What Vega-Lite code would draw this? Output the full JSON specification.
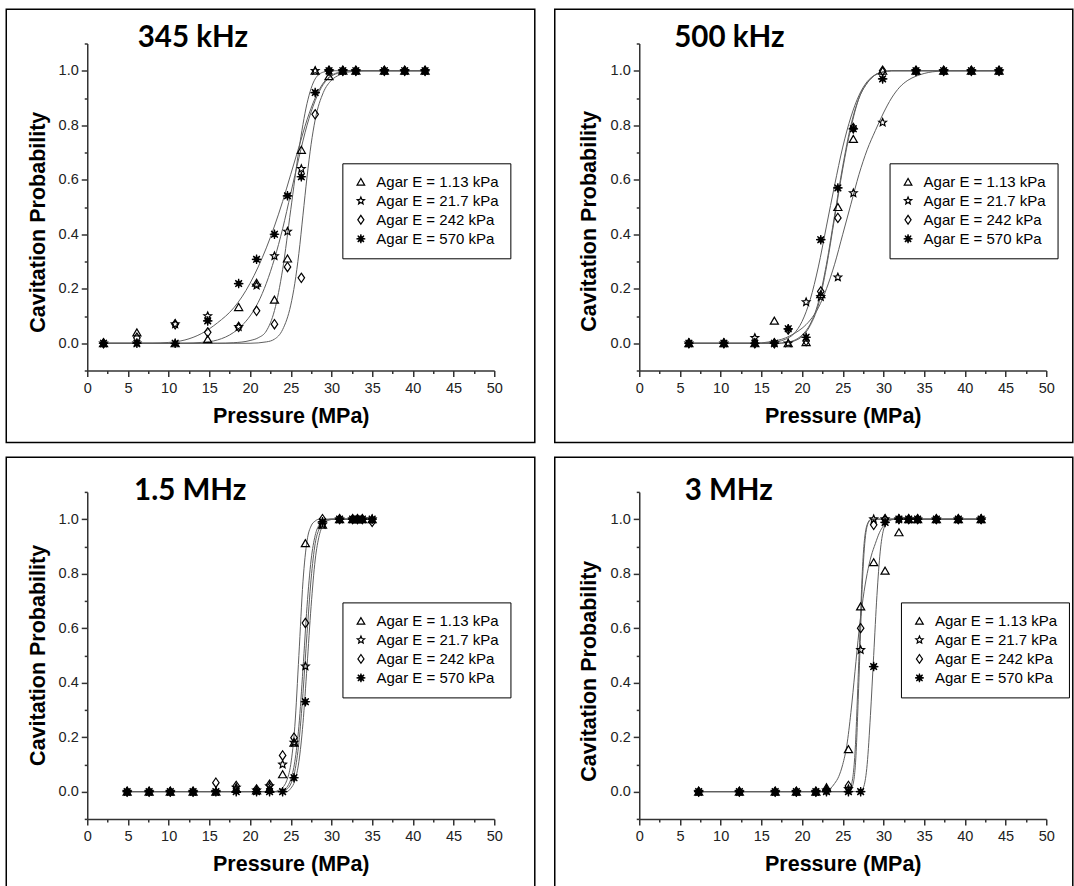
{
"$schema": "https://vega.github.io/schema/vega-lite/v6.json",
"background": "white",
"padding": {"left": 5.25, "top": 8.5, "right": 0, "bottom": 0},
"datasets": {
"pts": [
{"p":1,"x":2,"t":0,"s":0,"d":0,"a":0},
{"p":1,"x":6.1,"t":0.04,"s":0,"d":0.02,"a":0},
{"p":1,"x":10.8,"t":0,"s":0.07,"d":0.07,"a":0},
{"p":1,"x":14.8,"t":0.015,"s":0.1,"d":0.04,"a":0.082},
{"p":1,"x":18.6,"t":0.133,"s":0.06,"d":0.06,"a":0.219},
{"p":1,"x":20.8,"t":0.222,"s":0.212,"d":0.119,"a":0.308},
{"p":1,"x":23,"t":0.16,"s":0.32,"d":0.07,"a":0.4},
{"p":1,"x":24.6,"t":0.311,"s":0.41,"d":0.28,"a":0.541},
{"p":1,"x":26.3,"t":0.71,"s":0.64,"d":0.24,"a":0.611},
{"p":1,"x":28,"t":1,"s":1,"d":0.84,"a":0.92},
{"p":1,"x":29.7,"t":0.98,"s":1,"d":1,"a":1},
{"p":1,"x":31.4,"t":1,"s":1,"d":1,"a":1},
{"p":1,"x":33,"t":1,"s":1,"d":1,"a":1},
{"p":1,"x":36.5,"t":1,"s":1,"d":1,"a":1},
{"p":1,"x":39,"t":1,"s":1,"d":1,"a":1},
{"p":1,"x":41.5,"t":1,"s":1,"d":1,"a":1},
{"p":2,"x":6.1,"t":0,"s":0,"d":0,"a":0},
{"p":2,"x":10.4,"t":0,"s":0,"d":0,"a":0},
{"p":2,"x":14.2,"t":0,"s":0.02,"d":0,"a":0},
{"p":2,"x":16.6,"t":0.083,"s":0,"d":0,"a":0},
{"p":2,"x":18.3,"t":0,"s":0,"d":0.05,"a":0.053},
{"p":2,"x":20.5,"t":0.004,"s":0.151,"d":0.008,"a":0.022},
{"p":2,"x":22.3,"t":0.18,"s":0.17,"d":0.19,"a":0.38},
{"p":2,"x":24.4,"t":0.5,"s":0.242,"d":0.46,"a":0.57},
{"p":2,"x":26.3,"t":0.75,"s":0.551,"d":0.79,"a":0.787},
{"p":2,"x":29.9,"t":1,"s":0.81,"d":1,"a":0.97},
{"p":2,"x":34,"t":1,"s":1,"d":1,"a":1},
{"p":2,"x":37.4,"t":1,"s":1,"d":1,"a":1},
{"p":2,"x":40.8,"t":1,"s":1,"d":1,"a":1},
{"p":2,"x":44.2,"t":1,"s":1,"d":1,"a":1},
{"p":3,"x":4.9,"t":0,"s":0,"d":0,"a":0},
{"p":3,"x":7.6,"t":0,"s":0,"d":0,"a":0},
{"p":3,"x":10.2,"t":0,"s":0,"d":0,"a":0},
{"p":3,"x":13,"t":0,"s":0,"d":0,"a":0},
{"p":3,"x":15.8,"t":0,"s":0,"d":0.033,"a":0},
{"p":3,"x":18.3,"t":0.01,"s":0.015,"d":0.021,"a":0},
{"p":3,"x":20.8,"t":0.005,"s":0.005,"d":0.008,"a":0},
{"p":3,"x":22.4,"t":0.01,"s":0.02,"d":0.025,"a":0},
{"p":3,"x":24,"t":0.064,"s":0.1,"d":0.133,"a":0},
{"p":3,"x":25.4,"t":0.18,"s":0.18,"d":0.198,"a":0.051},
{"p":3,"x":26.8,"t":0.912,"s":0.46,"d":0.619,"a":0.33},
{"p":3,"x":28.9,"t":0.98,"s":0.98,"d":1,"a":0.99},
{"p":3,"x":31,"t":1,"s":1,"d":1,"a":1},
{"p":3,"x":32.6,"t":1,"s":1,"d":1,"a":1},
{"p":3,"x":33.2,"t":1,"s":1,"d":1,"a":1},
{"p":3,"x":33.8,"t":1,"s":1,"d":1,"a":1},
{"p":3,"x":35,"t":1,"s":1,"d":0.99,"a":1},
{"p":4,"x":7.3,"t":0,"s":0,"d":0,"a":0},
{"p":4,"x":12.3,"t":0,"s":0,"d":0,"a":0},
{"p":4,"x":16.7,"t":0,"s":0,"d":0,"a":0},
{"p":4,"x":19.3,"t":0,"s":0,"d":0,"a":0},
{"p":4,"x":21.7,"t":0,"s":0,"d":0,"a":0},
{"p":4,"x":23,"t":0.016,"s":0.005,"d":0.005,"a":0},
{"p":4,"x":25.7,"t":0.156,"s":0.01,"d":0.021,"a":0},
{"p":4,"x":27.2,"t":0.68,"s":0.52,"d":0.6,"a":0},
{"p":4,"x":28.8,"t":0.842,"s":1,"d":0.979,"a":0.459},
{"p":4,"x":30.2,"t":0.811,"s":1,"d":1,"a":0.988},
{"p":4,"x":31.9,"t":0.952,"s":1,"d":1,"a":1},
{"p":4,"x":33.1,"t":1,"s":1,"d":1,"a":1},
{"p":4,"x":34.2,"t":1,"s":1,"d":1,"a":1},
{"p":4,"x":36.5,"t":1,"s":1,"d":1,"a":1},
{"p":4,"x":39.2,"t":1,"s":1,"d":1,"a":1},
{"p":4,"x":42,"t":1,"s":1,"d":1,"a":1}
],
"fit": [
{"p":1,"k":"t","x":2,"y":0},{"p":1,"k":"t","x":16,"y":0},{"p":1,"k":"t","x":18,"y":0.002},{"p":1,"k":"t","x":20,"y":0.01},{"p":1,"k":"t","x":21,"y":0.02},{"p":1,"k":"t","x":22,"y":0.045},{"p":1,"k":"t","x":23,"y":0.12},{"p":1,"k":"t","x":24,"y":0.27},{"p":1,"k":"t","x":25,"y":0.49},{"p":1,"k":"t","x":26,"y":0.71},{"p":1,"k":"t","x":27,"y":0.88},{"p":1,"k":"t","x":28,"y":0.97},{"p":1,"k":"t","x":29,"y":0.995},{"p":1,"k":"t","x":30,"y":1},{"p":1,"k":"t","x":41.5,"y":1},
{"p":1,"k":"s","x":2,"y":0},{"p":1,"k":"s","x":12,"y":0},{"p":1,"k":"s","x":14,"y":0.003},{"p":1,"k":"s","x":16,"y":0.012},{"p":1,"k":"s","x":18,"y":0.04},{"p":1,"k":"s","x":19,"y":0.065},{"p":1,"k":"s","x":20,"y":0.1},{"p":1,"k":"s","x":21,"y":0.15},{"p":1,"k":"s","x":22,"y":0.22},{"p":1,"k":"s","x":23,"y":0.31},{"p":1,"k":"s","x":24,"y":0.42},{"p":1,"k":"s","x":25,"y":0.55},{"p":1,"k":"s","x":26,"y":0.68},{"p":1,"k":"s","x":27,"y":0.8},{"p":1,"k":"s","x":28,"y":0.89},{"p":1,"k":"s","x":29,"y":0.95},{"p":1,"k":"s","x":30,"y":0.98},{"p":1,"k":"s","x":31,"y":0.993},{"p":1,"k":"s","x":32,"y":1},{"p":1,"k":"s","x":41.5,"y":1},
{"p":1,"k":"d","x":2,"y":0},{"p":1,"k":"d","x":20,"y":0},{"p":1,"k":"d","x":22,"y":0.005},{"p":1,"k":"d","x":23,"y":0.015},{"p":1,"k":"d","x":24,"y":0.05},{"p":1,"k":"d","x":25,"y":0.14},{"p":1,"k":"d","x":25.5,"y":0.22},{"p":1,"k":"d","x":26,"y":0.33},{"p":1,"k":"d","x":26.5,"y":0.47},{"p":1,"k":"d","x":27,"y":0.61},{"p":1,"k":"d","x":27.5,"y":0.73},{"p":1,"k":"d","x":28,"y":0.82},{"p":1,"k":"d","x":29,"y":0.92},{"p":1,"k":"d","x":30,"y":0.965},{"p":1,"k":"d","x":31,"y":0.985},{"p":1,"k":"d","x":32,"y":0.995},{"p":1,"k":"d","x":34,"y":1},{"p":1,"k":"d","x":41.5,"y":1},
{"p":1,"k":"a","x":2,"y":0},{"p":1,"k":"a","x":8,"y":0},{"p":1,"k":"a","x":10,"y":0.003},{"p":1,"k":"a","x":12,"y":0.012},{"p":1,"k":"a","x":14,"y":0.035},{"p":1,"k":"a","x":16,"y":0.075},{"p":1,"k":"a","x":18,"y":0.13},{"p":1,"k":"a","x":19,"y":0.17},{"p":1,"k":"a","x":20,"y":0.22},{"p":1,"k":"a","x":21,"y":0.28},{"p":1,"k":"a","x":22,"y":0.35},{"p":1,"k":"a","x":23,"y":0.43},{"p":1,"k":"a","x":24,"y":0.52},{"p":1,"k":"a","x":25,"y":0.62},{"p":1,"k":"a","x":26,"y":0.72},{"p":1,"k":"a","x":27,"y":0.82},{"p":1,"k":"a","x":28,"y":0.9},{"p":1,"k":"a","x":29,"y":0.955},{"p":1,"k":"a","x":30,"y":0.983},{"p":1,"k":"a","x":31,"y":0.995},{"p":1,"k":"a","x":32,"y":1},{"p":1,"k":"a","x":41.5,"y":1},
{"p":2,"k":"t","x":6.1,"y":0},{"p":2,"k":"t","x":17,"y":0},{"p":2,"k":"t","x":18,"y":0.003},{"p":2,"k":"t","x":19,"y":0.01},{"p":2,"k":"t","x":20,"y":0.03},{"p":2,"k":"t","x":21,"y":0.07},{"p":2,"k":"t","x":22,"y":0.15},{"p":2,"k":"t","x":23,"y":0.29},{"p":2,"k":"t","x":24,"y":0.47},{"p":2,"k":"t","x":25,"y":0.65},{"p":2,"k":"t","x":26,"y":0.8},{"p":2,"k":"t","x":27,"y":0.9},{"p":2,"k":"t","x":28,"y":0.955},{"p":2,"k":"t","x":29,"y":0.985},{"p":2,"k":"t","x":30,"y":0.996},{"p":2,"k":"t","x":31,"y":1},{"p":2,"k":"t","x":44.2,"y":1},
{"p":2,"k":"d","x":6.1,"y":0},{"p":2,"k":"d","x":17,"y":0},{"p":2,"k":"d","x":18,"y":0.002},{"p":2,"k":"d","x":19,"y":0.008},{"p":2,"k":"d","x":20,"y":0.025},{"p":2,"k":"d","x":21,"y":0.065},{"p":2,"k":"d","x":22,"y":0.14},{"p":2,"k":"d","x":23,"y":0.28},{"p":2,"k":"d","x":24,"y":0.46},{"p":2,"k":"d","x":25,"y":0.64},{"p":2,"k":"d","x":26,"y":0.79},{"p":2,"k":"d","x":27,"y":0.9},{"p":2,"k":"d","x":28,"y":0.955},{"p":2,"k":"d","x":29,"y":0.985},{"p":2,"k":"d","x":30,"y":0.996},{"p":2,"k":"d","x":31,"y":1},{"p":2,"k":"d","x":44.2,"y":1},
{"p":2,"k":"a","x":6.1,"y":0},{"p":2,"k":"a","x":15,"y":0},{"p":2,"k":"a","x":16,"y":0.002},{"p":2,"k":"a","x":17,"y":0.006},{"p":2,"k":"a","x":18,"y":0.015},{"p":2,"k":"a","x":19,"y":0.035},{"p":2,"k":"a","x":20,"y":0.08},{"p":2,"k":"a","x":21,"y":0.16},{"p":2,"k":"a","x":22,"y":0.28},{"p":2,"k":"a","x":23,"y":0.43},{"p":2,"k":"a","x":24,"y":0.58},{"p":2,"k":"a","x":25,"y":0.72},{"p":2,"k":"a","x":26,"y":0.83},{"p":2,"k":"a","x":27,"y":0.91},{"p":2,"k":"a","x":28,"y":0.96},{"p":2,"k":"a","x":29,"y":0.985},{"p":2,"k":"a","x":30,"y":0.995},{"p":2,"k":"a","x":31,"y":1},{"p":2,"k":"a","x":44.2,"y":1},
{"p":2,"k":"s","x":6.1,"y":0},{"p":2,"k":"s","x":14,"y":0},{"p":2,"k":"s","x":16,"y":0.005},{"p":2,"k":"s","x":18,"y":0.02},{"p":2,"k":"s","x":19,"y":0.035},{"p":2,"k":"s","x":20,"y":0.055},{"p":2,"k":"s","x":21,"y":0.085},{"p":2,"k":"s","x":22,"y":0.13},{"p":2,"k":"s","x":23,"y":0.2},{"p":2,"k":"s","x":24,"y":0.29},{"p":2,"k":"s","x":25,"y":0.4},{"p":2,"k":"s","x":26,"y":0.51},{"p":2,"k":"s","x":27,"y":0.62},{"p":2,"k":"s","x":28,"y":0.71},{"p":2,"k":"s","x":29,"y":0.78},{"p":2,"k":"s","x":30,"y":0.845},{"p":2,"k":"s","x":31,"y":0.9},{"p":2,"k":"s","x":32,"y":0.94},{"p":2,"k":"s","x":33,"y":0.965},{"p":2,"k":"s","x":34,"y":0.98},{"p":2,"k":"s","x":35,"y":0.99},{"p":2,"k":"s","x":36,"y":0.996},{"p":2,"k":"s","x":38,"y":1},{"p":2,"k":"s","x":44.2,"y":1},
{"p":3,"k":"t","x":4.9,"y":0},{"p":3,"k":"t","x":23,"y":0},{"p":3,"k":"t","x":23.5,"y":0.005},{"p":3,"k":"t","x":24,"y":0.015},{"p":3,"k":"t","x":24.5,"y":0.04},{"p":3,"k":"t","x":25,"y":0.1},{"p":3,"k":"t","x":25.5,"y":0.24},{"p":3,"k":"t","x":26,"y":0.5},{"p":3,"k":"t","x":26.5,"y":0.77},{"p":3,"k":"t","x":27,"y":0.92},{"p":3,"k":"t","x":27.5,"y":0.975},{"p":3,"k":"t","x":28,"y":0.993},{"p":3,"k":"t","x":28.5,"y":1},{"p":3,"k":"t","x":35,"y":1},
{"p":3,"k":"d","x":4.9,"y":0},{"p":3,"k":"d","x":23.5,"y":0},{"p":3,"k":"d","x":24,"y":0.004},{"p":3,"k":"d","x":24.5,"y":0.015},{"p":3,"k":"d","x":25,"y":0.045},{"p":3,"k":"d","x":25.5,"y":0.11},{"p":3,"k":"d","x":26,"y":0.24},{"p":3,"k":"d","x":26.5,"y":0.45},{"p":3,"k":"d","x":27,"y":0.68},{"p":3,"k":"d","x":27.5,"y":0.85},{"p":3,"k":"d","x":28,"y":0.94},{"p":3,"k":"d","x":28.5,"y":0.98},{"p":3,"k":"d","x":29,"y":0.995},{"p":3,"k":"d","x":30,"y":1},{"p":3,"k":"d","x":35,"y":1},
{"p":3,"k":"s","x":4.9,"y":0},{"p":3,"k":"s","x":24,"y":0},{"p":3,"k":"s","x":24.5,"y":0.008},{"p":3,"k":"s","x":25,"y":0.028},{"p":3,"k":"s","x":25.5,"y":0.075},{"p":3,"k":"s","x":26,"y":0.18},{"p":3,"k":"s","x":26.5,"y":0.36},{"p":3,"k":"s","x":27,"y":0.58},{"p":3,"k":"s","x":27.5,"y":0.78},{"p":3,"k":"s","x":28,"y":0.91},{"p":3,"k":"s","x":28.5,"y":0.965},{"p":3,"k":"s","x":29,"y":0.99},{"p":3,"k":"s","x":30,"y":1},{"p":3,"k":"s","x":35,"y":1},
{"p":3,"k":"a","x":4.9,"y":0},{"p":3,"k":"a","x":24.5,"y":0},{"p":3,"k":"a","x":25,"y":0.012},{"p":3,"k":"a","x":25.5,"y":0.04},{"p":3,"k":"a","x":26,"y":0.11},{"p":3,"k":"a","x":26.5,"y":0.25},{"p":3,"k":"a","x":27,"y":0.46},{"p":3,"k":"a","x":27.5,"y":0.68},{"p":3,"k":"a","x":28,"y":0.85},{"p":3,"k":"a","x":28.5,"y":0.94},{"p":3,"k":"a","x":29,"y":0.98},{"p":3,"k":"a","x":29.5,"y":0.995},{"p":3,"k":"a","x":30.5,"y":1},{"p":3,"k":"a","x":35,"y":1},
{"p":4,"k":"t","x":7.3,"y":0},{"p":4,"k":"t","x":22.5,"y":0},{"p":4,"k":"t","x":23,"y":0.005},{"p":4,"k":"t","x":23.5,"y":0.012},{"p":4,"k":"t","x":24,"y":0.03},{"p":4,"k":"t","x":24.5,"y":0.055},{"p":4,"k":"t","x":25,"y":0.1},{"p":4,"k":"t","x":25.5,"y":0.17},{"p":4,"k":"t","x":26,"y":0.29},{"p":4,"k":"t","x":26.5,"y":0.44},{"p":4,"k":"t","x":27,"y":0.59},{"p":4,"k":"t","x":27.5,"y":0.71},{"p":4,"k":"t","x":28,"y":0.8},{"p":4,"k":"t","x":28.5,"y":0.865},{"p":4,"k":"t","x":29,"y":0.91},{"p":4,"k":"t","x":29.5,"y":0.95},{"p":4,"k":"t","x":30,"y":0.975},{"p":4,"k":"t","x":30.5,"y":0.99},{"p":4,"k":"t","x":31.5,"y":1},{"p":4,"k":"t","x":42,"y":1},
{"p":4,"k":"d","x":7.3,"y":0},{"p":4,"k":"d","x":25.5,"y":0},{"p":4,"k":"d","x":26,"y":0.02},{"p":4,"k":"d","x":26.5,"y":0.14},{"p":4,"k":"d","x":27,"y":0.5},{"p":4,"k":"d","x":27.5,"y":0.86},{"p":4,"k":"d","x":28,"y":0.98},{"p":4,"k":"d","x":28.5,"y":1},{"p":4,"k":"d","x":42,"y":1},
{"p":4,"k":"s","x":7.3,"y":0},{"p":4,"k":"s","x":25.8,"y":0},{"p":4,"k":"s","x":26.2,"y":0.02},{"p":4,"k":"s","x":26.6,"y":0.12},{"p":4,"k":"s","x":27,"y":0.42},{"p":4,"k":"s","x":27.4,"y":0.76},{"p":4,"k":"s","x":27.8,"y":0.94},{"p":4,"k":"s","x":28.2,"y":0.99},{"p":4,"k":"s","x":28.6,"y":1},{"p":4,"k":"s","x":42,"y":1},
{"p":4,"k":"a","x":7.3,"y":0},{"p":4,"k":"a","x":27.2,"y":0},{"p":4,"k":"a","x":27.6,"y":0.02},{"p":4,"k":"a","x":28,"y":0.1},{"p":4,"k":"a","x":28.4,"y":0.28},{"p":4,"k":"a","x":28.8,"y":0.5},{"p":4,"k":"a","x":29.2,"y":0.72},{"p":4,"k":"a","x":29.6,"y":0.88},{"p":4,"k":"a","x":30,"y":0.96},{"p":4,"k":"a","x":30.5,"y":0.99},{"p":4,"k":"a","x":31,"y":1},{"p":4,"k":"a","x":42,"y":1}
]
},
"columns": 2,
"spacing": {"row": 12.4, "column": 17},
"resolve": {"scale": {"shape": "independent", "fill": "independent", "stroke": "independent", "x": "independent", "y": "independent"}, "legend": {"shape": "independent", "fill": "independent", "stroke": "independent"}},
"concat": [
{"width": 407, "height": 327,
"resolve": {"axis": {"x": "independent", "y": "independent"}},
"layer": [
{"data": {"values": [{}]}, "mark": {"type": "rect", "fill": "white", "fillOpacity": 0, "stroke": "black", "strokeWidth": 1.5, "clip": false},
"encoding": {"x": {"datum": -9.95, "type": "quantitative", "scale": {"domain": [0, 50], "nice": false, "zero": false}, "axis": null}, "x2": {"datum": 54.98},
"y": {"datum": 1.2255, "type": "quantitative", "scale": {"domain": [-0.1, 1.1], "nice": false, "zero": false}, "axis": null}, "y2": {"datum": -0.3646}}},
{"data": {"name": "fit"}, "transform": [{"filter": "datum.p === 1"}], "mark": {"type": "line", "color": "#5f5f5f", "strokeWidth": 1, "interpolate": "monotone"},
"encoding": {"x": {"field": "x", "type": "quantitative", "scale": {"domain": [0, 50], "nice": false, "zero": false}, "title": "Pressure (MPa)",
"axis": {"orient": "bottom", "values": [0,5,10,15,20,25,30,35,40,45,50], "tickSize": 6, "labelPadding": 5, "titlePadding": 10}},
"y": {"field": "y", "type": "quantitative", "scale": {"domain": [-0.1, 1.1], "nice": false, "zero": false}, "title": "Cavitation Probability",
"axis": {"orient": "left", "values": [0,0.2,0.4,0.6,0.8,1], "format": ".1f", "tickSize": 6, "labelPadding": 3, "titleX": -42.5, "titleY": 178.2, "titleBaseline": "alphabetic"}},
"detail": {"field": "k"}}},
{"data": {"name": "pts"}, "transform": [{"filter": "datum.p === 1"}, {"fold": ["t", "s", "d", "a"]}], "mark": {"type": "point", "filled": true, "strokeWidth": 1.2, "size": 66, "opacity": 1},
"encoding": {"x": {"field": "x", "type": "quantitative", "scale": {"domain": [0, 50], "nice": false, "zero": false}, "axis": {"orient": "bottom", "values": [2.5,7.5,12.5,17.5,22.5,27.5,32.5,37.5,42.5,47.5], "labels": false, "domain": false, "tickSize": 3, "title": null}},
"y": {"field": "value", "type": "quantitative", "scale": {"domain": [-0.1, 1.1], "nice": false, "zero": false}, "axis": {"orient": "left", "values": [-0.1,0.1,0.3,0.5,0.7,0.9,1.1], "labels": false, "domain": false, "tickSize": 3, "title": null}},
"shape": {"field": "key", "type": "nominal", "scale": {"domain": ["t", "s", "d", "a"], "range": ["triangle-up", "M0,-1L0.265,-0.364L0.951,-0.309L0.428,0.139L0.588,0.809L0,0.45L-0.588,0.809L-0.428,0.139L-0.951,-0.309L-0.265,-0.364Z", "M0,-1.15L0.8,0L0,1.15L-0.8,0Z", "M0,-1.15L0.122,-0.296L0.813,-0.813L0.296,-0.122L1.15,0L0.296,0.122L0.813,0.813L0.122,0.296L0,1.15L-0.122,0.296L-0.813,0.813L-0.296,0.122L-1.15,0L-0.296,-0.122L-0.813,-0.813L-0.122,-0.296Z"]},
"legend": {"orient": "none", "legendX": 255.1, "legendY": 119.8, "title": null, "labelExpr": "datum.label == 't' ? 'Agar E = 1.13 kPa' : datum.label == 's' ? 'Agar E = 21.7 kPa' : datum.label == 'd' ? 'Agar E = 242 kPa' : 'Agar E = 570 kPa'"}},
"fill": {"field": "key", "type": "nominal", "scale": {"domain": ["t", "s", "d", "a"], "range": ["transparent", "transparent", "transparent", "black"]},
"legend": {"orient": "none", "legendX": 255.1, "legendY": 119.8, "title": null, "labelExpr": "datum.label == 't' ? 'Agar E = 1.13 kPa' : datum.label == 's' ? 'Agar E = 21.7 kPa' : datum.label == 'd' ? 'Agar E = 242 kPa' : 'Agar E = 570 kPa'"}},
"stroke": {"field": "key", "type": "nominal", "scale": {"domain": ["t", "s", "d", "a"], "range": ["black", "black", "black", "black"]},
"legend": {"orient": "none", "legendX": 255.1, "legendY": 119.8, "title": null, "labelExpr": "datum.label == 't' ? 'Agar E = 1.13 kPa' : datum.label == 's' ? 'Agar E = 21.7 kPa' : datum.label == 'd' ? 'Agar E = 242 kPa' : 'Agar E = 570 kPa'"}}}},
{"data": {"values": [{}]}, "mark": {"type": "text", "text": "345 kHz", "font": "Lato", "fontWeight": "bold", "fontSize": 29.5, "align": "left", "baseline": "alphabetic", "color": "black"},
"encoding": {"x": {"datum": 6.2, "type": "quantitative", "scale": {"domain": [0, 50], "nice": false, "zero": false}, "axis": null},
"y": {"datum": 1.088, "type": "quantitative", "scale": {"domain": [-0.1, 1.1], "nice": false, "zero": false}, "axis": null}}}
]},
{"width": 407, "height": 327,
"resolve": {"axis": {"x": "independent", "y": "independent"}},
"layer": [
{"data": {"values": [{}]}, "mark": {"type": "rect", "fill": "white", "fillOpacity": 0, "stroke": "black", "strokeWidth": 1.5, "clip": false},
"encoding": {"x": {"datum": -10.38, "type": "quantitative", "scale": {"domain": [0, 50], "nice": false, "zero": false}, "axis": null}, "x2": {"datum": 53.26},
"y": {"datum": 1.2255, "type": "quantitative", "scale": {"domain": [-0.1, 1.1], "nice": false, "zero": false}, "axis": null}, "y2": {"datum": -0.3646}}},
{"data": {"name": "fit"}, "transform": [{"filter": "datum.p === 2"}], "mark": {"type": "line", "color": "#5f5f5f", "strokeWidth": 1, "interpolate": "monotone"},
"encoding": {"x": {"field": "x", "type": "quantitative", "scale": {"domain": [0, 50], "nice": false, "zero": false}, "title": "Pressure (MPa)",
"axis": {"orient": "bottom", "values": [0,5,10,15,20,25,30,35,40,45,50], "tickSize": 6, "labelPadding": 5, "titlePadding": 10}},
"y": {"field": "y", "type": "quantitative", "scale": {"domain": [-0.1, 1.1], "nice": false, "zero": false}, "title": "Cavitation Probability",
"axis": {"orient": "left", "values": [0,0.2,0.4,0.6,0.8,1], "format": ".1f", "tickSize": 6, "labelPadding": 3, "titleX": -44.2, "titleY": 177.3, "titleBaseline": "alphabetic"}},
"detail": {"field": "k"}}},
{"data": {"name": "pts"}, "transform": [{"filter": "datum.p === 2"}, {"fold": ["t", "s", "d", "a"]}], "mark": {"type": "point", "filled": true, "strokeWidth": 1.2, "size": 66, "opacity": 1},
"encoding": {"x": {"field": "x", "type": "quantitative", "scale": {"domain": [0, 50], "nice": false, "zero": false}, "axis": {"orient": "bottom", "values": [2.5,7.5,12.5,17.5,22.5,27.5,32.5,37.5,42.5,47.5], "labels": false, "domain": false, "tickSize": 3, "title": null}},
"y": {"field": "value", "type": "quantitative", "scale": {"domain": [-0.1, 1.1], "nice": false, "zero": false}, "axis": {"orient": "left", "values": [-0.1,0.1,0.3,0.5,0.7,0.9,1.1], "labels": false, "domain": false, "tickSize": 3, "title": null}},
"shape": {"field": "key", "type": "nominal", "scale": {"domain": ["t", "s", "d", "a"], "range": ["triangle-up", "M0,-1L0.265,-0.364L0.951,-0.309L0.428,0.139L0.588,0.809L0,0.45L-0.588,0.809L-0.428,0.139L-0.951,-0.309L-0.265,-0.364Z", "M0,-1.15L0.8,0L0,1.15L-0.8,0Z", "M0,-1.15L0.122,-0.296L0.813,-0.813L0.296,-0.122L1.15,0L0.296,0.122L0.813,0.813L0.122,0.296L0,1.15L-0.122,0.296L-0.813,0.813L-0.296,0.122L-1.15,0L-0.296,-0.122L-0.813,-0.813L-0.122,-0.296Z"]},
"legend": {"orient": "none", "legendX": 250.3, "legendY": 119.8, "title": null, "labelExpr": "datum.label == 't' ? 'Agar E = 1.13 kPa' : datum.label == 's' ? 'Agar E = 21.7 kPa' : datum.label == 'd' ? 'Agar E = 242 kPa' : 'Agar E = 570 kPa'"}},
"fill": {"field": "key", "type": "nominal", "scale": {"domain": ["t", "s", "d", "a"], "range": ["transparent", "transparent", "transparent", "black"]},
"legend": {"orient": "none", "legendX": 250.3, "legendY": 119.8, "title": null, "labelExpr": "datum.label == 't' ? 'Agar E = 1.13 kPa' : datum.label == 's' ? 'Agar E = 21.7 kPa' : datum.label == 'd' ? 'Agar E = 242 kPa' : 'Agar E = 570 kPa'"}},
"stroke": {"field": "key", "type": "nominal", "scale": {"domain": ["t", "s", "d", "a"], "range": ["black", "black", "black", "black"]},
"legend": {"orient": "none", "legendX": 250.3, "legendY": 119.8, "title": null, "labelExpr": "datum.label == 't' ? 'Agar E = 1.13 kPa' : datum.label == 's' ? 'Agar E = 21.7 kPa' : datum.label == 'd' ? 'Agar E = 242 kPa' : 'Agar E = 570 kPa'"}}}},
{"data": {"values": [{}]}, "mark": {"type": "text", "text": "500 kHz", "font": "Lato", "fontWeight": "bold", "fontSize": 29.5, "align": "left", "baseline": "alphabetic", "color": "black"},
"encoding": {"x": {"datum": 4.3, "type": "quantitative", "scale": {"domain": [0, 50], "nice": false, "zero": false}, "axis": null},
"y": {"datum": 1.088, "type": "quantitative", "scale": {"domain": [-0.1, 1.1], "nice": false, "zero": false}, "axis": null}}}
]},
{"width": 407, "height": 327,
"resolve": {"axis": {"x": "independent", "y": "independent"}},
"layer": [
{"data": {"values": [{}]}, "mark": {"type": "rect", "fill": "white", "fillOpacity": 0, "stroke": "black", "strokeWidth": 1.5, "clip": false},
"encoding": {"x": {"datum": -9.95, "type": "quantitative", "scale": {"domain": [0, 50], "nice": false, "zero": false}, "axis": null}, "x2": {"datum": 54.98},
"y": {"datum": 1.2273, "type": "quantitative", "scale": {"domain": [-0.1, 1.1], "nice": false, "zero": false}, "axis": null}, "y2": {"datum": -0.3635}}},
{"data": {"name": "fit"}, "transform": [{"filter": "datum.p === 3"}], "mark": {"type": "line", "color": "#5f5f5f", "strokeWidth": 1, "interpolate": "monotone"},
"encoding": {"x": {"field": "x", "type": "quantitative", "scale": {"domain": [0, 50], "nice": false, "zero": false}, "title": "Pressure (MPa)",
"axis": {"orient": "bottom", "values": [0,5,10,15,20,25,30,35,40,45,50], "tickSize": 6, "labelPadding": 5, "titlePadding": 10}},
"y": {"field": "y", "type": "quantitative", "scale": {"domain": [-0.1, 1.1], "nice": false, "zero": false}, "title": "Cavitation Probability",
"axis": {"orient": "left", "values": [0,0.2,0.4,0.6,0.8,1], "format": ".1f", "tickSize": 6, "labelPadding": 3, "titleX": -42.7, "titleY": 163, "titleBaseline": "alphabetic"}},
"detail": {"field": "k"}}},
{"data": {"name": "pts"}, "transform": [{"filter": "datum.p === 3"}, {"fold": ["t", "s", "d", "a"]}], "mark": {"type": "point", "filled": true, "strokeWidth": 1.2, "size": 66, "opacity": 1},
"encoding": {"x": {"field": "x", "type": "quantitative", "scale": {"domain": [0, 50], "nice": false, "zero": false}, "axis": {"orient": "bottom", "values": [2.5,7.5,12.5,17.5,22.5,27.5,32.5,37.5,42.5,47.5], "labels": false, "domain": false, "tickSize": 3, "title": null}},
"y": {"field": "value", "type": "quantitative", "scale": {"domain": [-0.1, 1.1], "nice": false, "zero": false}, "axis": {"orient": "left", "values": [-0.1,0.1,0.3,0.5,0.7,0.9,1.1], "labels": false, "domain": false, "tickSize": 3, "title": null}},
"shape": {"field": "key", "type": "nominal", "scale": {"domain": ["t", "s", "d", "a"], "range": ["triangle-up", "M0,-1L0.265,-0.364L0.951,-0.309L0.428,0.139L0.588,0.809L0,0.45L-0.588,0.809L-0.428,0.139L-0.951,-0.309L-0.265,-0.364Z", "M0,-1.15L0.8,0L0,1.15L-0.8,0Z", "M0,-1.15L0.122,-0.296L0.813,-0.813L0.296,-0.122L1.15,0L0.296,0.122L0.813,0.813L0.122,0.296L0,1.15L-0.122,0.296L-0.813,0.813L-0.296,0.122L-1.15,0L-0.296,-0.122L-0.813,-0.813L-0.122,-0.296Z"]},
"legend": {"orient": "none", "legendX": 255.2, "legendY": 110.5, "title": null, "labelExpr": "datum.label == 't' ? 'Agar E = 1.13 kPa' : datum.label == 's' ? 'Agar E = 21.7 kPa' : datum.label == 'd' ? 'Agar E = 242 kPa' : 'Agar E = 570 kPa'"}},
"fill": {"field": "key", "type": "nominal", "scale": {"domain": ["t", "s", "d", "a"], "range": ["transparent", "transparent", "transparent", "black"]},
"legend": {"orient": "none", "legendX": 255.2, "legendY": 110.5, "title": null, "labelExpr": "datum.label == 't' ? 'Agar E = 1.13 kPa' : datum.label == 's' ? 'Agar E = 21.7 kPa' : datum.label == 'd' ? 'Agar E = 242 kPa' : 'Agar E = 570 kPa'"}},
"stroke": {"field": "key", "type": "nominal", "scale": {"domain": ["t", "s", "d", "a"], "range": ["black", "black", "black", "black"]},
"legend": {"orient": "none", "legendX": 255.2, "legendY": 110.5, "title": null, "labelExpr": "datum.label == 't' ? 'Agar E = 1.13 kPa' : datum.label == 's' ? 'Agar E = 21.7 kPa' : datum.label == 'd' ? 'Agar E = 242 kPa' : 'Agar E = 570 kPa'"}}}},
{"data": {"values": [{}]}, "mark": {"type": "text", "text": "1.5 MHz", "font": "Lato", "fontWeight": "bold", "fontSize": 29.5, "align": "left", "baseline": "alphabetic", "color": "black"},
"encoding": {"x": {"datum": 5.75, "type": "quantitative", "scale": {"domain": [0, 50], "nice": false, "zero": false}, "axis": null},
"y": {"datum": 1.07, "type": "quantitative", "scale": {"domain": [-0.1, 1.1], "nice": false, "zero": false}, "axis": null}}}
]},
{"width": 407, "height": 327,
"resolve": {"axis": {"x": "independent", "y": "independent"}},
"layer": [
{"data": {"values": [{}]}, "mark": {"type": "rect", "fill": "white", "fillOpacity": 0, "stroke": "black", "strokeWidth": 1.5, "clip": false},
"encoding": {"x": {"datum": -10.38, "type": "quantitative", "scale": {"domain": [0, 50], "nice": false, "zero": false}, "axis": null}, "x2": {"datum": 53.26},
"y": {"datum": 1.2273, "type": "quantitative", "scale": {"domain": [-0.1, 1.1], "nice": false, "zero": false}, "axis": null}, "y2": {"datum": -0.3635}}},
{"data": {"name": "fit"}, "transform": [{"filter": "datum.p === 4"}], "mark": {"type": "line", "color": "#5f5f5f", "strokeWidth": 1, "interpolate": "monotone"},
"encoding": {"x": {"field": "x", "type": "quantitative", "scale": {"domain": [0, 50], "nice": false, "zero": false}, "title": "Pressure (MPa)",
"axis": {"orient": "bottom", "values": [0,5,10,15,20,25,30,35,40,45,50], "tickSize": 6, "labelPadding": 5, "titlePadding": 10}},
"y": {"field": "y", "type": "quantitative", "scale": {"domain": [-0.1, 1.1], "nice": false, "zero": false}, "title": "Cavitation Probability",
"axis": {"orient": "left", "values": [0,0.2,0.4,0.6,0.8,1], "format": ".1f", "tickSize": 6, "labelPadding": 3, "titleX": -44.2, "titleY": 178.8, "titleBaseline": "alphabetic"}},
"detail": {"field": "k"}}},
{"data": {"name": "pts"}, "transform": [{"filter": "datum.p === 4"}, {"fold": ["t", "s", "d", "a"]}], "mark": {"type": "point", "filled": true, "strokeWidth": 1.2, "size": 66, "opacity": 1},
"encoding": {"x": {"field": "x", "type": "quantitative", "scale": {"domain": [0, 50], "nice": false, "zero": false}, "axis": {"orient": "bottom", "values": [2.5,7.5,12.5,17.5,22.5,27.5,32.5,37.5,42.5,47.5], "labels": false, "domain": false, "tickSize": 3, "title": null}},
"y": {"field": "value", "type": "quantitative", "scale": {"domain": [-0.1, 1.1], "nice": false, "zero": false}, "axis": {"orient": "left", "values": [-0.1,0.1,0.3,0.5,0.7,0.9,1.1], "labels": false, "domain": false, "tickSize": 3, "title": null}},
"shape": {"field": "key", "type": "nominal", "scale": {"domain": ["t", "s", "d", "a"], "range": ["triangle-up", "M0,-1L0.265,-0.364L0.951,-0.309L0.428,0.139L0.588,0.809L0,0.45L-0.588,0.809L-0.428,0.139L-0.951,-0.309L-0.265,-0.364Z", "M0,-1.15L0.8,0L0,1.15L-0.8,0Z", "M0,-1.15L0.122,-0.296L0.813,-0.813L0.296,-0.122L1.15,0L0.296,0.122L0.813,0.813L0.122,0.296L0,1.15L-0.122,0.296L-0.813,0.813L-0.296,0.122L-1.15,0L-0.296,-0.122L-0.813,-0.813L-0.122,-0.296Z"]},
"legend": {"orient": "none", "legendX": 261.7, "legendY": 110.5, "title": null, "labelExpr": "datum.label == 't' ? 'Agar E = 1.13 kPa' : datum.label == 's' ? 'Agar E = 21.7 kPa' : datum.label == 'd' ? 'Agar E = 242 kPa' : 'Agar E = 570 kPa'"}},
"fill": {"field": "key", "type": "nominal", "scale": {"domain": ["t", "s", "d", "a"], "range": ["transparent", "transparent", "transparent", "black"]},
"legend": {"orient": "none", "legendX": 261.7, "legendY": 110.5, "title": null, "labelExpr": "datum.label == 't' ? 'Agar E = 1.13 kPa' : datum.label == 's' ? 'Agar E = 21.7 kPa' : datum.label == 'd' ? 'Agar E = 242 kPa' : 'Agar E = 570 kPa'"}},
"stroke": {"field": "key", "type": "nominal", "scale": {"domain": ["t", "s", "d", "a"], "range": ["black", "black", "black", "black"]},
"legend": {"orient": "none", "legendX": 261.7, "legendY": 110.5, "title": null, "labelExpr": "datum.label == 't' ? 'Agar E = 1.13 kPa' : datum.label == 's' ? 'Agar E = 21.7 kPa' : datum.label == 'd' ? 'Agar E = 242 kPa' : 'Agar E = 570 kPa'"}}}},
{"data": {"values": [{}]}, "mark": {"type": "text", "text": "3 MHz", "font": "Lato", "fontWeight": "bold", "fontSize": 29.5, "align": "left", "baseline": "alphabetic", "color": "black"},
"encoding": {"x": {"datum": 5.58, "type": "quantitative", "scale": {"domain": [0, 50], "nice": false, "zero": false}, "axis": null},
"y": {"datum": 1.07, "type": "quantitative", "scale": {"domain": [-0.1, 1.1], "nice": false, "zero": false}, "axis": null}}}
]}
],
"config": {
"view": {"stroke": null},
"font": "Liberation Sans",
"axis": {"domainColor": "#333333", "domainWidth": 1.5, "tickColor": "#333333", "tickWidth": 1.5, "labelColor": "#222222", "labelFont": "Liberation Sans", "labelFontSize": 14.5, "titleFont": "Liberation Sans", "titleFontSize": 21.5, "titleFontWeight": "bold", "titleColor": "black", "grid": false, "labelOverlap": false, "labelFlush": false},
"legend": {"labelFont": "Liberation Sans", "labelFontSize": 15, "labelColor": "black", "symbolSize": 58, "symbolStrokeWidth": 1.2, "strokeColor": "black", "fillColor": "white", "padding": 11, "rowPadding": 3, "labelOffset": 8, "labelLimit": 300, "direction": "vertical"}
}
}
